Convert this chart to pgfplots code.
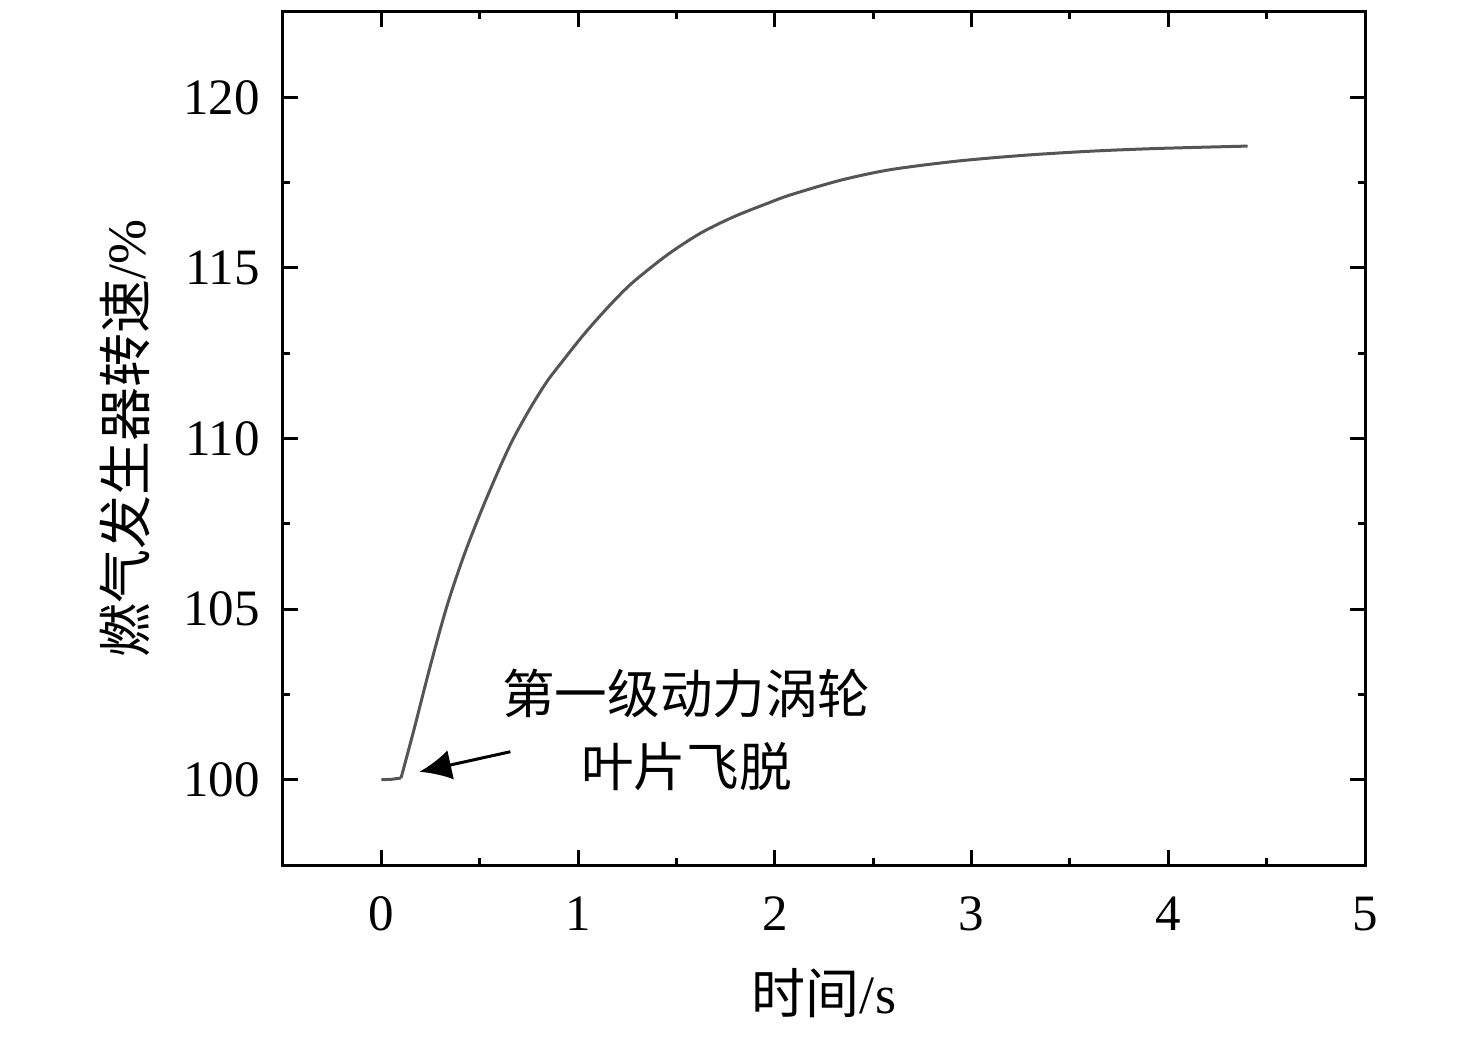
\documentclass[border=0pt]{standalone}
\usepackage{fontspec}
\setmainfont{Liberation Serif}
\newfontfamily\cjk{Noto Sans CJK SC}
\usepackage{pgfplots}
\pgfplotsset{compat=1.18}
\usetikzlibrary{arrows.meta}
\definecolor{curve}{RGB}{85,85,85}
\begin{document}
\begin{tikzpicture}
\begin{axis}[
  name=ax,
  scale only axis,
  width=541pt, height=426.5pt,
  xmin=-0.5, xmax=5, ymin=97.5, ymax=122.5,
  xtick={0,1,2,3,4,5}, ytick={100,105,110,115,120},
  minor xtick={-0.5,0.5,1.5,2.5,3.5,4.5},
  minor ytick={97.5,102.5,107.5,112.5,117.5,122.5},
  tick align=inside,
  xtick pos=both, ytick pos=both,
  major tick length=7.5pt, minor tick length=3.5pt,
  every tick/.style={black, line width=1.5pt},
  axis line style={line width=1.5pt},
  /pgf/number format/assume math mode=true,
  tick label style={font=\fontsize{25.5}{30}\selectfont},
  xticklabel style={yshift=-12.5pt},
  yticklabel style={xshift=-8pt},
  clip=false,
]
\addplot[curve, line width=1.5pt] coordinates {
(0,100) (0.05,100.01) (0.1,100.05)
};
\addplot[curve, line width=1.5pt, smooth] coordinates {
(0.1,100.05) (0.165,101.45) (0.249,103.34) (0.334,105.1) (0.419,106.56)
(0.508,107.88) (0.605,109.19) (0.673,110.02) (0.758,110.9) (0.843,111.68)
(0.927,112.31) (1.012,112.93) (1.097,113.5) (1.19,114.08) (1.283,114.6)
(1.453,115.38) (1.623,116.02) (1.792,116.5) (1.962,116.89) (2.08,117.14)
(2.335,117.57) (2.589,117.88) (2.928,118.13) (3.267,118.30) (3.606,118.42)
(3.946,118.50) (4.403,118.57)
};
\draw[line width=1.5pt, -{Latex[length=16pt,width=15pt]}] (axis cs:0.656,100.82) -- (axis cs:0.193,100.23);
\node[font=\cjk\fontsize{26.3}{36.5}\selectfont, align=center] at (axis cs:1.551,101.45) {第一级动力涡轮\\叶片飞脱};
\node[rotate=90, font=\fontsize{27}{30}\selectfont] at (axis cs:-1.302,110) {{\cjk 燃气发生器转速}/\%};
\node[font=\fontsize{27}{30}\selectfont] at (axis cs:2.25,93.74) {{\cjk 时间}/s};
\end{axis}
\pgfresetboundingbox
\path[use as bounding box] ([shift={(-141.5pt,-89pt)}]ax.south west) rectangle ([shift={(55.5pt,6pt)}]ax.north east);
\end{tikzpicture}
\end{document}
